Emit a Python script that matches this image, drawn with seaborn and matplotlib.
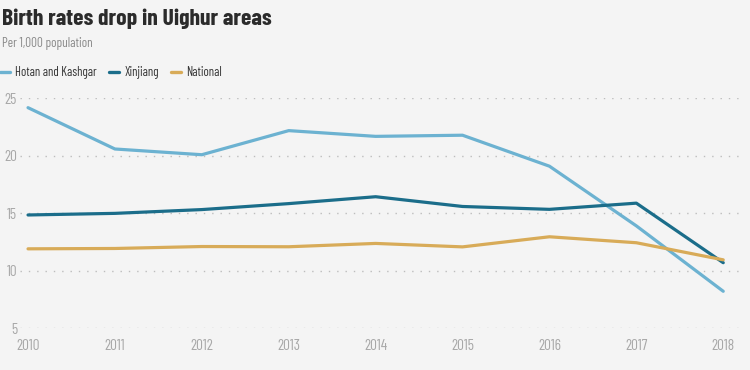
import matplotlib
matplotlib.use("Agg")
import matplotlib.pyplot as plt
import seaborn as sns
import pandas as pd
from matplotlib.lines import Line2D

years = [2010, 2011, 2012, 2013, 2014, 2015, 2016, 2017, 2018]
hotan_kashgar = [24.2, 20.6, 20.1, 22.2, 21.7, 21.8, 19.1, 13.9, 8.2]
xinjiang = [14.85, 14.99, 15.32, 15.84, 16.44, 15.59, 15.34, 15.88, 10.69]
national = [11.90, 11.93, 12.10, 12.08, 12.37, 12.07, 12.95, 12.43, 10.94]
series_names = ["Hotan and Kashgar", "Xinjiang", "National"]
colors = ["#6cb2d1", "#1b6d8a", "#d8ab58"]
yticks = [5, 10, 15, 20, 25]

df = pd.DataFrame({
    "year": years * 3,
    "rate": hotan_kashgar + xinjiang + national,
    "series": [series_names[0]] * 9 + [series_names[1]] * 9 + [series_names[2]] * 9,
})

sns.set_theme(style="white")
FONT = ["Barlow Condensed", "DejaVu Sans"]
plt.rcParams["font.family"] = FONT
bg = "#f4f4f4"

fig = plt.figure(figsize=(7.5, 3.7), dpi=100, facecolor=bg)
ax = fig.add_axes([0.0267, 0.1135, 0.963, 0.6203], facecolor=bg)

sns.lineplot(data=df, x="year", y="rate", hue="series", hue_order=series_names,
             palette=colors, linewidth=2.3, ax=ax, legend=False)

ax.set_xlim(2009.908, 2018.219)
ax.set_ylim(5, 25)
ax.set_yticks(yticks)
ax.set_xticks(years)
ax.set_xticklabels([str(y) for y in years])
ax.set_xlabel("")
ax.set_ylabel("")
for s in ax.spines.values():
    s.set_visible(False)
ax.grid(axis="y", color="#bdbdbd", linestyle=(0, (1, 5)), linewidth=1.0)
ax.grid(axis="x", visible=False)
ax.tick_params(axis="y", length=0, pad=2, labelsize=11, labelcolor="#a8a8a8")
ax.tick_params(axis="x", length=4, width=1, color="#8a8a8a", direction="out",
               pad=4, labelsize=11, labelcolor="#a8a8a8")

fig.text(0.002, 0.948, "Birth rates drop in Uighur areas", fontsize=17,
         fontweight="bold", color="#2b2b2b", va="center", ha="left")
fig.text(0.002, 0.882, "Per 1,000 population", fontsize=9.5, color="#8a8a8a",
         va="center", ha="left")

handles = [Line2D([0], [0], color=c, lw=2.4) for c in colors]
fig.legend(handles, series_names, loc="center left", bbox_to_anchor=(0.0, 0.803),
           ncol=3, frameon=False, handlelength=0.75, handletextpad=0.45,
           columnspacing=0.95, borderpad=0, borderaxespad=0,
           prop={"size": 9.2}, labelcolor="#333333")

fig.savefig("out.png", dpi=100, facecolor=bg)
